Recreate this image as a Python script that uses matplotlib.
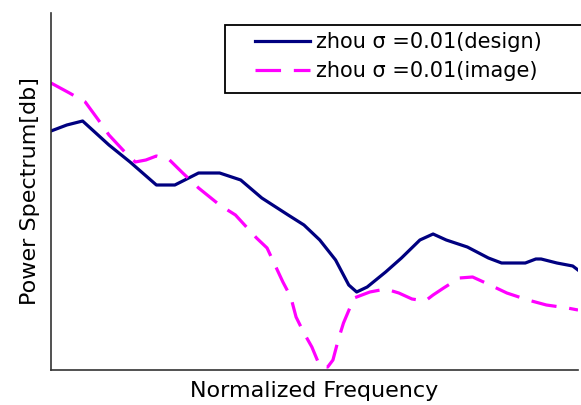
import numpy as np
import matplotlib
matplotlib.use('Agg')
import matplotlib.pyplot as plt
from matplotlib.patches import Rectangle

# design curve (normalized frequency, power in arbitrary dB units)
freq_design = [0.0, 0.03, 0.06, 0.11, 0.15, 0.2, 0.235, 0.28, 0.32, 0.36, 0.4, 0.45, 0.48,
               0.51, 0.54, 0.565, 0.58, 0.6, 0.635, 0.665, 0.7, 0.725, 0.75, 0.79, 0.83,
               0.855, 0.9, 0.92, 0.93, 0.96, 0.99, 1.0]
pow_design = [23.9, 24.5, 24.9, 22.5, 20.8, 18.5, 18.5, 19.7, 19.7, 19.0, 17.2, 15.5, 14.5,
              13.0, 11.0, 8.5, 7.8, 8.3, 9.8, 11.2, 13.0, 13.6, 13.0, 12.3, 11.2,
              10.7, 10.7, 11.1, 11.1, 10.7, 10.4, 10.0]

# image curve
freq_image = [0.0, 0.035, 0.065, 0.09, 0.11, 0.14, 0.16, 0.18, 0.2, 0.225, 0.25, 0.28,
              0.32, 0.35, 0.39, 0.41, 0.44, 0.455, 0.465, 0.48, 0.495, 0.51, 0.525,
              0.535, 0.545, 0.555, 0.575, 0.605, 0.635, 0.66, 0.685, 0.71, 0.725, 0.745,
              0.775, 0.8, 0.825, 0.865, 0.905, 0.94, 0.98, 1.0]
pow_image = [28.7, 27.7, 26.8, 25.0, 23.5, 21.8, 20.8, 21.0, 21.4, 21.0, 19.7, 18.2,
             16.5, 15.5, 13.2, 12.2, 8.8, 7.3, 5.3, 3.7, 2.3, 0.4, 0.3,
             1.0, 3.0, 4.7, 7.2, 7.8, 8.1, 7.7, 7.1, 6.9, 7.5, 8.2,
             9.2, 9.3, 8.7, 7.7, 7.0, 6.5, 6.2, 6.0]

design_label = 'zhou σ =0.01(design)'
image_label = 'zhou σ =0.01(image)'

fig = plt.figure(figsize=(5.81, 4.05), dpi=100)
ax = fig.add_axes([51 / 581, 35 / 405, 527 / 581, 357 / 405])

ax.plot(freq_design, pow_design, color='#000080', lw=2.3, label=design_label)
ax.plot(freq_image, pow_image, color='#ff00ff', lw=2.3, dashes=(8, 4), label=image_label)

ax.set_xlim(0, 1)
ax.set_ylim(0, 35.7)
ax.set_xticks([])
ax.set_yticks([])
for edge in ['top', 'right']:
    ax.spines[edge].set_visible(False)
for edge in ['left', 'bottom']:
    ax.spines[edge].set_linewidth(1.2)
    ax.spines[edge].set_color('#333333')

ax.set_xlabel('Normalized Frequency', fontsize=16, labelpad=8)
ax.set_ylabel('Power Spectrum[db]', fontsize=16, labelpad=8)

# legend box runs off the right edge in the original
fig.patches.append(Rectangle((225 / 581, 1 - 93 / 405), 400 / 581, 68 / 405,
                             transform=fig.transFigure, facecolor='white',
                             edgecolor='black', lw=1.3, zorder=5))
leg = fig.legend(loc='upper left', bbox_to_anchor=(255 / 581, 1 - 32 / 405),
                 fontsize=15, handlelength=2.65, frameon=False,
                 borderpad=0, labelspacing=0.45, handletextpad=0.3,
                 borderaxespad=0)
leg.set_zorder(6)

plt.savefig('out.png', dpi=100)
